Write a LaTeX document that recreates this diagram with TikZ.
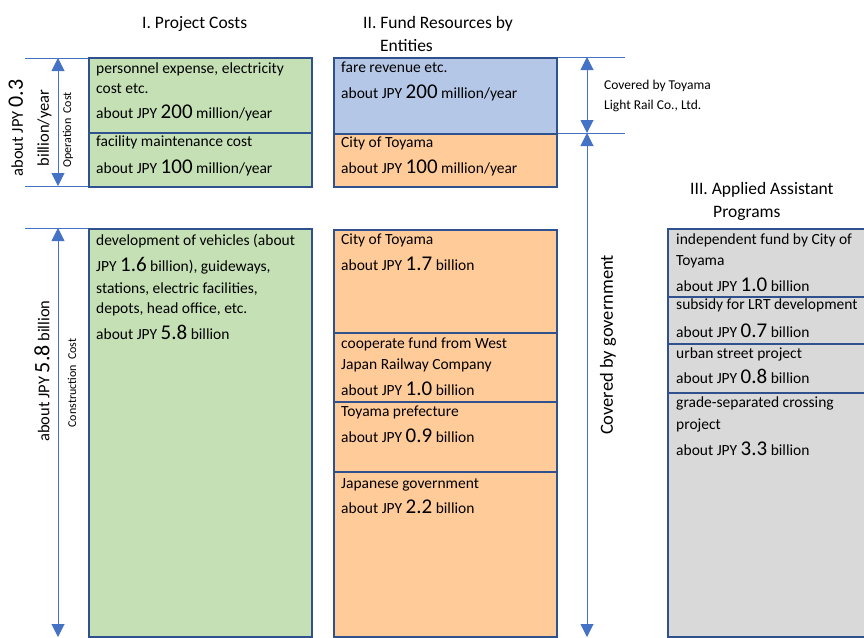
\documentclass[tikz,border=0pt]{standalone}
\usepackage{fontspec}
\setmainfont{Carlito}
\usetikzlibrary{arrows.meta}
\definecolor{bord}{RGB}{47,82,143}
\definecolor{arr}{RGB}{68,114,196}
\definecolor{grn}{RGB}{197,224,180}
\definecolor{org}{RGB}{255,203,153}
\definecolor{blu}{RGB}{180,199,231}
\definecolor{gry}{RGB}{217,217,217}
\newcommand\bign[1]{{\fontsize{21}{21}\selectfont #1}}
\newcommand\bigrot[1]{{\fontsize{22}{22}\selectfont #1}}
\begin{document}
\begin{tikzpicture}[x=1pt,y=-1pt,
  cell/.style={draw=bord, line width=2.1pt, inner sep=0pt, anchor=north west, minimum width=223pt},
  txt/.style={anchor=base west, inner sep=0pt, align=left, font=\fontsize{15.5}{21}\selectfont},
  head/.style={anchor=base west, inner sep=0pt, align=left, font=\fontsize{17.5}{23}\selectfont},
  dim/.style={draw=arr, line width=1pt, {Triangle[width=13pt,length=13pt]}-{Triangle[width=13pt,length=13pt]}},
  tick/.style={draw=arr, line width=1pt},
  rot/.style={rotate=90, inner sep=0pt, align=center}
]
\useasboundingbox (0,0) rectangle (864,637);
\clip (0,0) rectangle (864,637);

% headers (anchor = baseline of last line)
\node[head] (h1) at (142,28) {I. Project Costs};
\node[head] (h2) at (363,51) {II. Fund Resources by\\\hspace*{17pt}Entities};
\node[head] (h3) at (690,217) {III. Applied Assistant\\\hspace*{23pt}Programs};

% guide lines and dimension arrows
\coordinate (t1a) at (25,58);  \coordinate (t1b) at (88,58);
\coordinate (t2a) at (25,186); \coordinate (t2b) at (88,186);
\coordinate (t3a) at (25,228); \coordinate (t3b) at (88,228);
\coordinate (t4a) at (556,57); \coordinate (t4b) at (625,57);
\coordinate (t5a) at (556,133); \coordinate (t5b) at (625,133);
\coordinate (a1) at (58,58);  \coordinate (a2) at (58,186);
\coordinate (a3) at (58,228); \coordinate (a4) at (58,637);
\coordinate (a5) at (587,57); \coordinate (a6) at (587,133);
\coordinate (a7) at (587,637);
\draw[tick] (t1a) -- (t1b);
\draw[tick] (t2a) -- (t2b);
\draw[tick] (t3a) -- (t3b);
\draw[tick] (t4a) -- (t4b);
\draw[tick] (t5a) -- (t5b);
\draw[dim] (a1) -- (a2);
\draw[dim] (a3) -- (a4);
\draw[dim] (a5) -- (a6);
\draw[dim] (a6) -- (a7);

% column I
\node[cell, fill=grn, minimum height=75pt] (oc1) at (88,57) {};
\node[cell, fill=grn, minimum height=54pt] (oc2) at (88,132) {};
\node[cell, fill=grn, minimum height=408pt] (cc) at (88,228) {};
\node[txt] (oc1t) at (96,118) {personnel expense, electricity\\[-1pt]cost etc.\\[4pt]about JPY \bign{200} million/year};
\node[txt] (oc2t) at (96,173) {facility maintenance cost\\[6pt]about JPY \bign{100} million/year};
\node[txt] (cct) at (96,339) {development of vehicles (about\\[5pt]JPY \bign{1.6} billion), guideways,\\[1pt]stations, electric facilities,\\[-1pt]depots, head office, etc.\\[5pt]about JPY \bign{5.8} billion};

% column II
\node[cell, fill=blu, minimum height=76pt] (fr1) at (333,57) {};
\node[cell, fill=org, minimum height=53pt] (fr2) at (333,133) {};
\node[cell, fill=org, minimum height=103pt] (fc1) at (333,229) {};
\node[cell, fill=org, minimum height=69pt] (fc2) at (333,332) {};
\node[cell, fill=org, minimum height=70pt] (fc3) at (333,401) {};
\node[cell, fill=org, minimum height=165pt] (fc4) at (333,471) {};
\node[txt] (fr1t) at (341,98) {fare revenue etc.\\[5pt]about JPY \bign{200} million/year};
\node[txt] (fr2t) at (341,173) {City of Toyama\\[5pt]about JPY \bign{100} million/year};
\node[txt] (fc1t) at (341,270) {City of Toyama\\[5pt]about JPY \bign{1.7} billion};
\node[txt] (fc2t) at (341,395) {cooperate fund from West\\Japan Railway Company\\[5pt]about JPY \bign{1.0} billion};
\node[txt] (fc3t) at (341,442) {Toyama prefecture\\[5pt]about JPY \bign{0.9} billion};
\node[txt] (fc4t) at (341,513) {Japanese government\\[4pt]about JPY \bign{2.2} billion};

% column III
\node[cell, fill=gry, minimum width=220pt, minimum height=68pt] (ap1) at (667,228) {};
\node[cell, fill=gry, minimum width=220pt, minimum height=47pt] (ap2) at (667,296) {};
\node[cell, fill=gry, minimum width=220pt, minimum height=49pt] (ap3) at (667,343) {};
\node[cell, fill=gry, minimum width=220pt, minimum height=244pt] (ap4) at (667,392) {};
\node[txt] (ap1t) at (676,291) {independent fund by City of\\Toyama\\[5pt]about JPY \bign{1.0} billion};
\node[txt] (ap2t) at (676,337) {subsidy for LRT development\\[7pt]about JPY \bign{0.7} billion};
\node[txt] (ap3t) at (676,383) {urban street project\\[4pt]about JPY \bign{0.8} billion};
\node[txt] (ap4t) at (676,455) {grade-separated crossing\\[1pt]project\\[5pt]about JPY \bign{3.3} billion};

% rotated labels
\node[rot, font=\fontsize{16.5}{26}\selectfont] (opv) at (30,128) {about JPY \bigrot{0.3}\\billion/year};
\node[rot, font=\fontsize{12}{12}\selectfont] (opl) at (68,130) {Operation\hspace{5pt}Cost};
\node[rot, font=\fontsize{16.5}{20}\selectfont] (ccv) at (42,371) {about JPY \bigrot{5.8} billion};
\node[rot, font=\fontsize{12}{12}\selectfont] (ccl) at (72,383) {Construction\hspace{5pt}Cost};
\node[rot, font=\fontsize{18.5}{20}\selectfont] (gov) at (608,345) {Covered by government};
\node[anchor=base west, inner sep=0pt, align=left, font=\fontsize{13.5}{20}\selectfont] (tlr) at (604,109) {Covered by Toyama\\Light Rail Co., Ltd.};
\end{tikzpicture}
\end{document}
